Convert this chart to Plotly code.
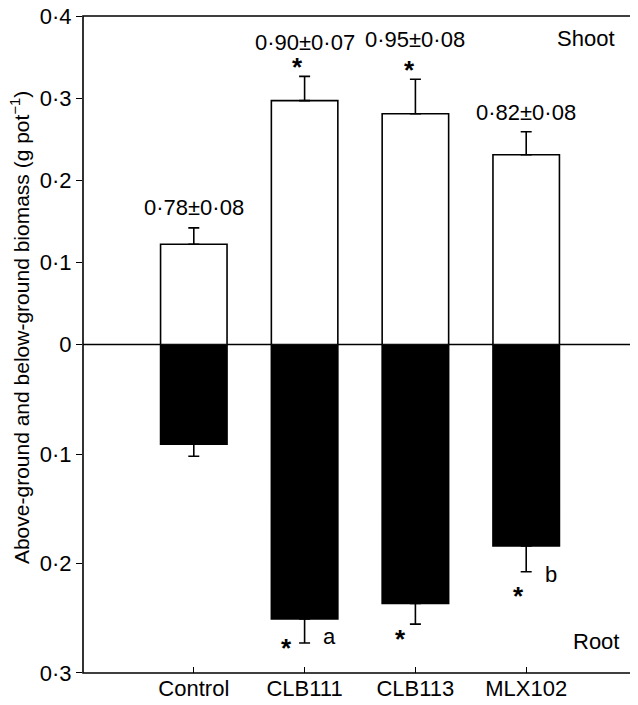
import plotly.graph_objects as go

categories = ["Control", "CLB111", "CLB113", "MLX102"]
shoot = [0.122, 0.297, 0.281, 0.231]
shoot_err = [0.020, 0.0295, 0.042, 0.028]
root = [0.091, 0.2506, 0.2364, 0.184]
root_err = [0.011, 0.022, 0.019, 0.0235]
ratio_labels = ["0·78±0·08", "0·90±0·07", "0·95±0·08", "0·82±0·08"]
shoot_sig = ["", "*", "*", ""]
root_sig = ["", "*", "*", "*"]
root_letters = ["", "a", "", "b"]
upper_ticks = [0, 0.1, 0.2, 0.3, 0.4]
upper_ticktext = ["0", "0·1", "0·2", "0·3", "0·4"]
lower_ticks = [0.1, 0.2, 0.3]
lower_ticktext = ["0·1", "0·2", "0·3"]

FONT = "Liberation Sans, Arial, Helvetica, sans-serif"
FS = 22
xs = list(range(len(categories)))

fig = go.Figure()
fig.add_trace(go.Bar(
    x=xs, y=shoot, width=0.6, xaxis="x", yaxis="y",
    marker=dict(color="white", line=dict(color="black", width=1.6)),
    error_y=dict(type="data", array=shoot_err, arrayminus=[0]*4, symmetric=False,
                 color="black", thickness=1.6, width=5.5),
    showlegend=False,
))
fig.add_trace(go.Bar(
    x=xs, y=root, width=0.6, xaxis="x", yaxis="y2",
    marker=dict(color="black", line=dict(color="black", width=1.6)),
    error_y=dict(type="data", array=root_err, arrayminus=[0]*4, symmetric=False,
                 color="black", thickness=1.6, width=5.5),
    showlegend=False,
))

annotations = []
label_shift = [20, 34, 40, 19]
star_font = dict(size=26, family=FONT, color="black")
for i in xs:
    annotations.append(dict(x=i, y=shoot[i] + shoot_err[i], xref="x", yref="y",
                            text=ratio_labels[i], showarrow=False,
                            xanchor="center", yanchor="middle",
                            yshift=label_shift[i], font=dict(size=FS, family=FONT, color="black")))
    if shoot_sig[i]:
        annotations.append(dict(x=i, y=shoot[i] + shoot_err[i], xref="x", yref="y",
                                text="<b>" + shoot_sig[i] + "</b>", showarrow=False,
                                xanchor="center", yanchor="middle",
                                xshift=-7 if i == 1 else -6, yshift=9, font=star_font))
root_star_dx = [0, -18, -15, -8]
root_star_dy = [0, -5, -15, -24]
for i in xs:
    if root_sig[i]:
        annotations.append(dict(x=i, y=root[i] + root_err[i], xref="x", yref="y2",
                                text="<b>" + root_sig[i] + "</b>", showarrow=False,
                                xanchor="center", yanchor="middle",
                                xshift=root_star_dx[i], yshift=root_star_dy[i], font=star_font))
    if root_letters[i]:
        annotations.append(dict(x=i, y=root[i] + root_err[i], xref="x", yref="y2",
                                text=root_letters[i], showarrow=False,
                                xanchor="center", yanchor="middle",
                                xshift=25, yshift=6 if i == 1 else -3,
                                font=dict(size=FS, family=FONT, color="black")))

annotations += [
    dict(x=0.908, y=0.9665, xref="paper", yref="paper", text="Shoot", showarrow=False,
         xanchor="center", yanchor="middle",
         font=dict(size=FS, family=FONT, color="black")),
    dict(x=0.926, y=0.0487, xref="paper", yref="paper", text="Root", showarrow=False,
         xanchor="center", yanchor="middle",
         font=dict(size=FS, family=FONT, color="black")),
    dict(x=0, y=0.525, xref="paper", yref="paper", textangle=-90, showarrow=False,
         xanchor="center", yanchor="middle", xshift=-63,
         text="Above-ground and below-ground biomass (g pot<sup>−1</sup>)",
         font=dict(size=FS - 1, family=FONT, color="black")),
]

fig.update_layout(
    width=630, height=697,
    margin=dict(l=75, r=1, t=8, b=32, autoexpand=False),
    paper_bgcolor="white", plot_bgcolor="white",
    font=dict(family=FONT, size=FS, color="black"),
    xaxis=dict(domain=[0, 1], anchor="y2", range=[-1, 4], tickvals=xs, ticktext=categories,
               ticks="inside", ticklen=6, tickwidth=1.4, tickcolor="black",
               showline=False, showgrid=False, zeroline=False, automargin=False,
               tickfont=dict(size=FS, family=FONT, color="black")),
    yaxis=dict(domain=[0.5, 1], anchor="x", range=[0, 0.40001], tickvals=upper_ticks,
               ticktext=upper_ticktext, ticks="outside", ticklen=6, tickwidth=1.4,
               tickcolor="black", showgrid=False, zeroline=False, showline=False,
               ticklabeloverflow="allow", automargin=False,
               tickfont=dict(size=FS, family=FONT, color="black")),
    yaxis2=dict(domain=[0, 0.5], anchor="x", range=[0.30001, 0], tickvals=lower_ticks,
                ticktext=lower_ticktext, ticks="outside", ticklen=6, tickwidth=1.4,
                tickcolor="black", showgrid=False, zeroline=False, showline=False,
                ticklabeloverflow="allow", automargin=False,
                tickfont=dict(size=FS, family=FONT, color="black")),
    annotations=annotations,
    shapes=[
        dict(type="rect", xref="paper", yref="paper", x0=0, x1=1, y0=0, y1=1,
             line=dict(color="black", width=1.6), layer="above"),
        dict(type="line", xref="paper", yref="paper", x0=0, x1=1, y0=0.5, y1=0.5,
             line=dict(color="black", width=1.4), layer="below"),
    ],
)

fig.write_html("out.html")
